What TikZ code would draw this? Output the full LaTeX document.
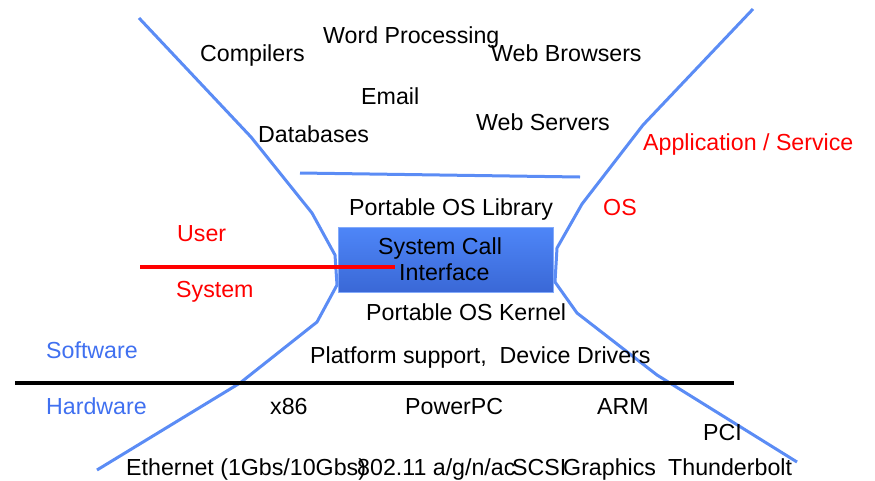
\documentclass[tikz,border=0pt]{standalone}
\usepackage{fontspec}
\setmainfont{Liberation Sans}
\definecolor{linebl}{RGB}{91,140,245}
\definecolor{textbl}{RGB}{64,112,240}
\definecolor{boxtop}{RGB}{78,134,248}
\definecolor{boxbot}{RGB}{58,104,214}
\tikzset{
  lbl/.style={anchor=base west, inner sep=0pt, font=\fontsize{23.2}{27}\selectfont},
  redlbl/.style={lbl, text=red},
  bluelbl/.style={lbl, text=textbl},
  curve/.style={draw=linebl, line width=3pt, line join=round},
}
\begin{document}
\begin{tikzpicture}[x=1pt,y=-1pt]
\useasboundingbox (0,0) rectangle (875,480);
% box
\node[draw=boxtop!70!white, line width=0.6pt, top color=boxtop, bottom color=boxbot,
      minimum width=215pt, minimum height=65pt, inner sep=0pt] (box) at (445.5,259.5) {};
% curves
\draw[curve] (139,18) -- (251,137) -- (312,213) -- (335,255) -- (337,285) -- (317,322) -- (240,383) -- (97,470);
\draw[curve] (753,9) -- (643,125) -- (582,204) -- (557,248) -- (555,282) -- (577,313) -- (657,375) -- (797,462);
\draw[curve] (300,173) -- (580,177);
% horizontal lines
\draw[red, line width=3.3pt] (140,267) -- (395,267);
\draw[black, line width=3.3pt] (15,383) -- (734,383);
% box text
\node[lbl] (sc1) at (378,254) {System Call};
\node[lbl] (sc2) at (399,280) {Interface};
% applications
\node[lbl] (comp) at (200,61) {Compilers};
\node[lbl] (word) at (323,43) {Word Processing};
\node[lbl] (webb) at (491,61) {Web Browsers};
\node[lbl] (email) at (361,104) {Email};
\node[lbl] (db) at (258,142) {Databases};
\node[lbl] (webs) at (476,130) {Web Servers};
\node[redlbl] (app) at (643,150) {Application / Service};
\node[redlbl] (os) at (603,215) {OS};
\node[lbl] (lib) at (349,215) {Portable OS Library};
\node[redlbl] (user) at (177,241) {User};
\node[redlbl] (sys) at (176,297) {System};
\node[lbl] (kern) at (366,320) {Portable OS Kernel};
\node[bluelbl] (sw) at (46,358) {Software};
\node[lbl] (plat) at (310,363) {Platform support,\ \ Device Drivers};
\node[bluelbl] (hw) at (46,414) {Hardware};
\node[lbl] (x86) at (270,414) {x86};
\node[lbl] (ppc) at (405,414) {PowerPC};
\node[lbl] (arm) at (597,414) {ARM};
\node[lbl] (pci) at (703,440) {PCI};
\node[lbl] (eth) at (126,475) {Ethernet (1Gbs/10Gbs)};
\node[lbl] (wifi) at (357,475) {802.11 a/g/n/ac};
\node[lbl] (scsi) at (512,475) {SCSI};
\node[lbl] (gfx) at (563,475) {Graphics};
\node[lbl] (thb) at (668,475) {Thunderbolt};
\end{tikzpicture}
\end{document}
